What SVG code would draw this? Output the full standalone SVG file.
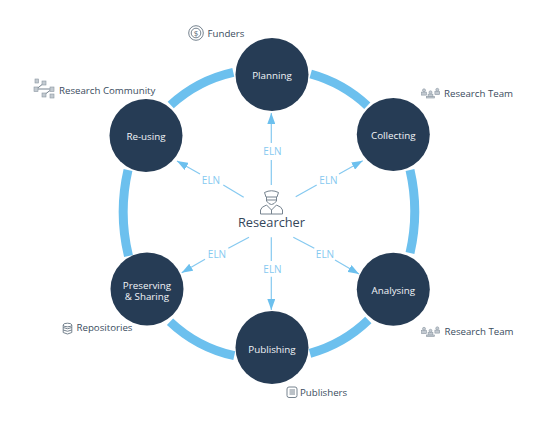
<svg xmlns="http://www.w3.org/2000/svg" width="555" height="429" viewBox="0 0 555 429">
<style>
text{font-family:"Open Sans","Liberation Sans",sans-serif}
.ring{fill:none;stroke:#6cc0ee;stroke-width:9}
.node{fill:#263c55}
.nl{fill:#f2f5f8;font-size:9.800px;text-anchor:middle}
.al{fill:#85c9f0;font-size:10px;text-anchor:middle}
.lab{fill:#3a4c5e;font-size:9.700px}
.lk{fill:none;stroke:#85c9f0;stroke-width:1.2}
.ic{fill:none;stroke:#76838f;stroke-width:1}
.ic2{fill:#c3cad1;stroke:#8a96a1;stroke-width:.6}
</style>
<defs>
<marker id="ah" markerUnits="userSpaceOnUse" markerWidth="12" markerHeight="8" refX="11" refY="4" orient="auto"><path d="M0 0L11 4L0 8Z" fill="#6cc0ee"/></marker>
<g id="person"><circle cx="0" cy="-2.2" r="1.5" class="ic2"/><rect x="-2.4" y="-.4" width="4.8" height="3" class="ic2"/></g>
<g id="team"><use href="#person" x="424" y="92.5"/><use href="#person" x="430.500" y="94.5"/><use href="#person" x="437.300" y="92"/><rect x="426.500" y="96.500" width="8" height="1.500" class="ic2"/></g>
</defs>
<g id="connectors">
<path class="ring" d="M310.700 74A136 136 0 0 1 367.300 105.700"/>
<path class="ring" d="M410 170A185 185 0 0 1 410 253"/>
<path class="ring" d="M368.300 320A136 136 0 0 1 310 353.300"/>
<path class="ring" d="M234.300 355.700A136 136 0 0 1 170 321.700"/>
<path class="ring" d="M128.500 256A187 187 0 0 1 128 170"/>
<path class="ring" d="M170.700 105A136 136 0 0 1 233.300 72.300"/>
<path class="lk" d="M271.300 185V160"/><path class="lk" d="M271.300 143V113" marker-end="url(#ah)"/>
<path class="lk" d="M295.700 196.700L316.700 185"/><path class="lk" d="M339 174L362.700 160.700" marker-end="url(#ah)"/>
<path class="lk" d="M293.300 237.300L314.300 248.300"/><path class="lk" d="M335 260L359 274" marker-end="url(#ah)"/>
<path class="lk" d="M271.300 237.300V261"/><path class="lk" d="M271.300 276.700V310" marker-end="url(#ah)"/>
<path class="lk" d="M249 237.300L228.300 248.300"/><path class="lk" d="M205 259.300L181.700 272.700" marker-end="url(#ah)"/>
<path class="lk" d="M243.700 197.300L223.300 185"/><path class="lk" d="M200 174L177 161" marker-end="url(#ah)"/>
<text class="al" x="272.500" y="155">ELN</text>
<text class="al" x="328.500" y="183.500">ELN</text>
<text class="al" x="325" y="258">ELN</text>
<text class="al" x="272.500" y="272.500">ELN</text>
<text class="al" x="217" y="257.500">ELN</text>
<text class="al" x="211" y="183.500">ELN</text>
</g>
<g id="planning"><circle class="node" cx="272" cy="74.500" r="36.500"/><text class="nl" x="272" y="78.500">Planning</text></g>
<g id="collecting"><circle class="node" cx="393.300" cy="134.500" r="36.500"/><text class="nl" x="393.300" y="139">Collecting</text></g>
<g id="analysing"><circle class="node" cx="393.300" cy="289.300" r="36.500"/><text class="nl" x="393.300" y="294">Analysing</text></g>
<g id="publishing"><circle class="node" cx="272" cy="347.500" r="36.500"/><text class="nl" x="272" y="352.500">Publishing</text></g>
<g id="preserving"><circle class="node" cx="147" cy="289" r="36.500"/><text class="nl" x="147" y="288.500">Preserving</text><text class="nl" x="147" y="300">&amp; Sharing</text></g>
<g id="reusing"><circle class="node" cx="146" cy="135.500" r="36.500"/><text class="nl" x="146" y="140">Re-using</text></g>
<g id="researcher">
<path class="ic" d="M264.500 192.500Q271.500 189 278.500 192.500L277 197H266Z"/>
<path class="ic" d="M266.500 197V201Q271.500 208 276.500 201V197"/>
<path class="ic" d="M266 200H277" stroke-width="1.500"/>
<path class="ic" d="M260.500 214V210Q261 207 266.500 205L271.500 210L276.500 205Q282 207 282.500 210V214ZM271.500 210V214"/>
<text x="271.500" y="227" text-anchor="middle" font-size="12.800" fill="#34465a">Researcher</text>
</g>
<g id="funders">
<circle class="ic" cx="196" cy="33" r="7.300" stroke-width="1.200"/><circle class="ic" cx="196" cy="33" r="4.800"/>
<text x="196" y="36" text-anchor="middle" font-size="8" fill="#5c6c7b">$</text>
<text class="lab" x="207.500" y="36.500">Funders</text>
</g>
<g id="research-community">
<path class="ic" d="M36.500 89L44 83M36.500 89H52M44 95L52 89" stroke="#c3cad1" stroke-width=".5"/>
<rect class="ic2" x="35" y="79" width="3.500" height="4"/><rect class="ic2" x="42" y="81" width="4" height="4"/><rect class="ic2" x="34" y="87" width="4" height="4.500"/><rect class="ic2" x="50" y="87" width="4" height="4.500"/><rect class="ic2" x="42" y="93" width="4" height="4"/><rect class="ic2" x="50" y="94" width="4" height="4"/>
<text class="lab" x="59" y="93.500">Research Community</text>
</g>
<g id="research-team-1"><use href="#team"/><text class="lab" x="444" y="96.500">Research Team</text></g>
<g id="research-team-2"><use href="#team" y="238.500"/><text class="lab" x="444.500" y="335">Research Team</text></g>
<g id="repositories">
<ellipse class="ic" cx="67.500" cy="325" rx="4.300" ry="1.800"/><path class="ic" d="M63.200 325V332.500Q67.500 335.500 71.800 332.500V325M63.200 327.500Q67.500 330 71.800 327.500M63.200 330Q67.500 332.500 71.800 330"/>
<text class="lab" x="76.500" y="331">Repositories</text>
</g>
<g id="publishers">
<rect class="ic" x="287" y="387" width="10" height="10.500" rx="2"/><path class="ic" d="M289.500 390H295M289.500 392H295M289.500 394H295" stroke-width=".8"/>
<text class="lab" x="300" y="395.500">Publishers</text>
</g>
</svg>
